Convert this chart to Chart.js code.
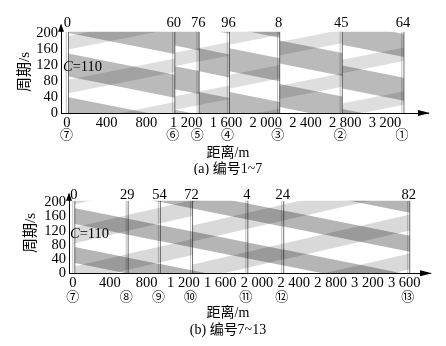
<!DOCTYPE html>
<html>
<head>
<meta charset="utf-8">
<script src="https://cdn.jsdelivr.net/npm/chart.js@4.4.0/dist/chart.umd.min.js"></script>
<style>
  html, body { margin: 0; padding: 0; background: #fff; }
  #wrapA { position: absolute; left: 0; top: 0; width: 446px; height: 175px; }
  #wrapB { position: absolute; left: 0; top: 175px; width: 446px; height: 171px; }
</style>
</head>
<body>
<div id="wrapA"><canvas id="chartA" width="446" height="175"></canvas></div>
<div id="wrapB"><canvas id="chartB" width="446" height="171"></canvas></div>
<script>
const cycle = 110; // C=110

// (a) 编号1~7
const nodesA = [15, 1085, 1330, 1635, 2140, 2770, 3390];          // 交叉口位置 m
const offsetsA = ['0', '60', '76', '96', '8', '45', '64'];        // 相位差
const namesA = ['⑦', '⑥', '⑤', '④', '③', '②', '①'];
const xTicksA = [0, 400, 800, 1200, 1600, 2000, 2400, 2800, 3200];
const xLabelsA = ['0', '400', '800', '1 200', '1 600', '2 000', '2 400', '2 800', '3 200'];
const inStartA = [92, 60, 105, 105, 125, 62];  // 下行带下沿, 各路段起点 s
const outStartA = [50, 118, 20, 62, 35, 100];  // 上行带下沿, 各路段起点 s
const inSlopeA = 0.05, outSlopeA = 0.05;       // s/m
const inWidthA = 58, outWidthA = 34;

// (b) 编号7~13
const nodesB = [20, 600, 950, 1300, 1900, 2290, 3660];
const offsetsB = ['0', '29', '54', '72', '4', '24', '82'];
const namesB = ['⑦', '⑧', '⑨', '⑩', '⑪', '⑫', '⑬'];
const xTicksB = [0, 400, 800, 1200, 1600, 2000, 2400, 2800, 3200, 3600];
const xLabelsB = ['0', '400', '800', '1 200', '1 600', '2 000', '2 400', '2 800', '3 200', '3 600'];
const inStartB = [139, 109, 91, 73, 42, 22];
const outStartB = [85, 120, 141, -20, 16, 39];
const inSlopeB = 0.052, outSlopeB = 0.06;
const inWidthB = 45, outWidthB = 45;

const yTicks = [0, 40, 80, 120, 160, 200];

const serif = "'Liberation Serif', 'Times New Roman', 'Noto Sans CJK SC', serif";
const cjk = "'Liberation Serif', 'Noto Sans CJK SC', sans-serif";

function band(points, color) {
  return {
    data: points.concat([points[0]]),
    showLine: true,
    fill: 'shape',
    backgroundColor: color,
    borderColor: 'rgba(0,0,0,0)',
    borderWidth: 0,
    pointRadius: 0
  };
}

function vline(x, color) {
  return {
    data: [{x: x, y: 0}, {x: x, y: 205}],
    showLine: true,
    fill: false,
    borderColor: color,
    borderWidth: 1,
    pointRadius: 0
  };
}

function buildDatasets(p) {
  const ds = [];
  for (let i = 0; i < p.nodes.length - 1; i++) {
    const x0 = p.nodes[i], x1 = p.nodes[i + 1], len = x1 - x0;
    for (let k = -2; k <= 2; k++) {
      const o = p.outStart[i] + k * cycle;
      const o1 = o + p.outSlope * len;
      ds.push(band([{x: x0, y: o}, {x: x1, y: o1}, {x: x1, y: o1 + p.outW}, {x: x0, y: o + p.outW}],
        p.outColor));
      const n = p.inStart[i] + k * cycle;
      const n1 = n - p.inSlope * len;
      ds.push(band([{x: x0, y: n}, {x: x1, y: n1}, {x: x1, y: n1 + p.inW}, {x: x0, y: n + p.inW}],
        p.inColor));
    }
  }
  p.nodes.forEach(n => {
    ds.push(vline(n - 22, 'rgba(150,150,150,0.6)'));
    ds.push(vline(n, 'rgba(90,90,90,0.85)'));
  });
  return ds;
}

const decor = {
  id: 'decor',
  afterDraw(chart, args, o) {
    const {ctx, chartArea: a, scales: {x}} = chart;
    ctx.save();
    ctx.fillStyle = '#000';
    ctx.strokeStyle = '#000';
    ctx.lineWidth = 1;
    // 坐标轴箭头
    ctx.beginPath();
    ctx.moveTo(a.left, a.top);
    ctx.lineTo(a.left, a.top - 7);
    ctx.stroke();
    ctx.beginPath();
    ctx.moveTo(a.left, a.top - 8);
    ctx.lineTo(a.left - 3, a.top);
    ctx.lineTo(a.left + 3, a.top);
    ctx.closePath();
    ctx.fill();
    ctx.beginPath();
    ctx.moveTo(a.right + 2, a.bottom);
    ctx.lineTo(a.right - 10, a.bottom - 3);
    ctx.lineTo(a.right - 10, a.bottom + 3);
    ctx.closePath();
    ctx.fill();

    ctx.textAlign = 'center';
    ctx.textBaseline = 'middle';
    ctx.font = '14.5px ' + serif;
    o.nodes.forEach((n, i) => ctx.fillText(o.offsets[i], x.getPixelForValue(n) - 1, o.topY));
    ctx.font = '13px ' + "'Noto Sans CJK SC', 'DejaVu Sans', sans-serif";
    o.nodes.forEach((n, i) => ctx.fillText(o.names[i], x.getPixelForValue(n) - 2, o.nameY));

    ctx.font = '14px ' + cjk;
    ctx.fillText('距离/m', o.titleX, o.titleY);
    ctx.fillText(o.caption, o.titleX, o.captionY);

    ctx.save();
    ctx.translate(o.yTitleX, o.yTitleY);
    ctx.rotate(-Math.PI / 2);
    ctx.font = '15px ' + cjk;
    ctx.fillText('周期/s', 0, 0);
    ctx.restore();

    ctx.textAlign = 'left';
    ctx.font = 'italic 14.5px ' + serif;
    ctx.fillText('C', o.cX, o.cY);
    const cw = ctx.measureText('C').width;
    ctx.font = '14.5px ' + serif;
    ctx.fillText('=110', o.cX + cw, o.cY);
    ctx.restore();
  }
};

function makeChart(id, p) {
  return new Chart(document.getElementById(id), {
    type: 'scatter',
    data: {datasets: buildDatasets(p)},
    plugins: [decor],
    options: {
      responsive: false,
      animation: false,
      devicePixelRatio: 1,
      layout: {padding: {left: 0, top: p.top, right: p.right, bottom: 0}},
      plugins: {
        legend: {display: false},
        tooltip: {enabled: false},
        decor: p.decor
      },
      scales: {
        x: {
          type: 'linear',
          min: p.xMin,
          max: p.xMax,
          afterBuildTicks: s => { s.ticks = p.xTicks.map(v => ({value: v})); },
          afterFit: s => { s.height = p.xHeight; },
          grid: {display: false, drawTicks: false},
          border: {display: true, color: '#000', width: 1},
          ticks: {
            padding: 1,
            color: '#000',
            font: {family: serif, size: 14.5},
            maxRotation: 0,
            autoSkip: false,
            callback: (v, i) => p.xLabels[i]
          }
        },
        y: {
          type: 'linear',
          min: 0,
          max: 205,
          afterBuildTicks: s => { s.ticks = yTicks.map(v => ({value: v})); },
          afterFit: s => { s.width = p.yWidth; },
          grid: {display: false, drawTicks: false},
          border: {display: true, color: '#000', width: 1},
          ticks: {
            padding: 3,
            color: '#000',
            font: {family: serif, size: 14.5},
            autoSkip: false
          }
        }
      }
    }
  });
}

makeChart('chartA', {
  nodes: nodesA, inStart: inStartA, outStart: outStartA,
  inSlope: inSlopeA, outSlope: outSlopeA, inW: inWidthA, outW: outWidthA,
  inColor: 'rgba(0,0,0,0.27)', outColor: 'rgba(0,0,0,0.13)',
  xTicks: xTicksA, xLabels: xLabelsA,
  xMin: -60, xMax: 3632, top: 31.7, right: 18, xHeight: 62, yWidth: 61,
  decor: {nodes: nodesA, offsets: offsetsA, names: namesA, caption: '(a) 编号1~7',
    topY: 23, nameY: 134, titleX: 228, titleY: 153, captionY: 169,
    yTitleX: 25, yTitleY: 72, cX: 63, cY: 67}
});

makeChart('chartB', {
  nodes: nodesB, inStart: inStartB, outStart: outStartB,
  inSlope: inSlopeB, outSlope: outSlopeB, inW: inWidthB, outW: outWidthB,
  inColor: 'rgba(0,0,0,0.29)', outColor: 'rgba(0,0,0,0.15)',
  xTicks: xTicksB, xLabels: xLabelsB,
  xMin: -43, xMax: 3880, top: 25.7, right: 16, xHeight: 72.7, yWidth: 69,
  decor: {nodes: nodesB, offsets: offsetsB, names: namesB, caption: '(b) 编号7~13',
    topY: 20, nameY: 121, titleX: 228, titleY: 138, captionY: 155,
    yTitleX: 31, yTitleY: 58, cX: 70, cY: 59}
});
</script>
</body>
</html>
